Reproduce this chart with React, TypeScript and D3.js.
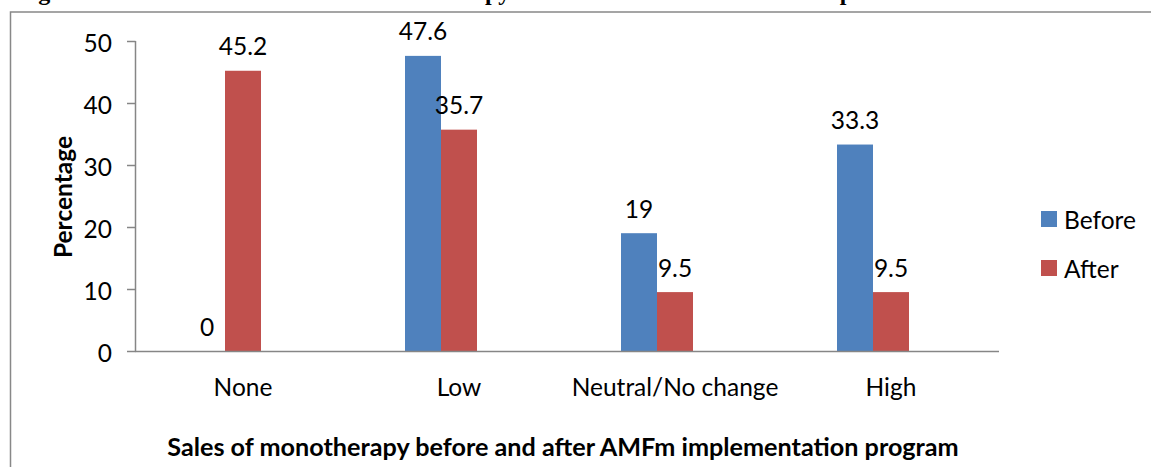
import React from "react";
import * as d3 from "d3";

const categories = ["None", "Low", "Neutral/No change", "High"];
const seriesNames = ["Before", "After"];
const beforeValues = [0, 47.6, 19, 33.3];
const afterValues = [45.2, 35.7, 9.5, 9.5];
const yTicks = [0, 10, 20, 30, 40, 50];
const colors = ["#4F81BD", "#C0504D"];

const W = 1151;
const H = 467;
const FONT = "Lato, 'Open Sans', sans-serif";

export default function App() {
  const x = d3.scaleBand<string>().domain(categories).range([135, 999]).padding(0);
  const inner = d3.scaleBand<string>().domain(seriesNames).range([54, 126]).padding(0);
  const y = d3.scaleLinear().domain([0, 50]).range([351, 41]);
  const values = [beforeValues, afterValues];
  const axisColor = "#868686";

  return (
    <svg
      width={W}
      height={H}
      style={{ position: "absolute", left: 0, top: 0, background: "#fff" }}
      fontFamily={FONT}
    >
      <rect x={0} y={0} width={W} height={H} fill="#fff" />
      {/* cut-off caption, only descenders visible (as in the reference) */}
      <text y={0} fontFamily="'Liberation Serif', 'Times New Roman', serif" fontWeight="bold" fontSize={24} fill="#000">
        <tspan x={17}>Figure 4: Sales of</tspan>
        <tspan x={373}>monotherapy before and after AMFm</tspan>
        <tspan x={813}>implementation</tspan>
      </text>
      {/* outer frame */}
      <rect x={10.5} y={12} width={1300} height={600} fill="none" stroke="#888" strokeWidth={1.5} />

      {/* bars */}
      {categories.map((c, i) => (
        <g key={c} transform={`translate(${x(c)},0)`}>
          {seriesNames.map((s, j) => {
            const v = values[j][i];
            const bx = inner(s)!;
            const by = y(v);
            return (
              <g key={s}>
                <rect x={bx} y={by} width={inner.bandwidth()} height={y(0) - by} fill={colors[j]} />
                <text
                  x={bx + inner.bandwidth() / 2}
                  y={by - 25}
                  textAnchor="middle"
                  dominantBaseline="central"
                  fontSize={24.5}
                  fill="#000"
                >
                  {String(v)}
                </text>
              </g>
            );
          })}
        </g>
      ))}

      {/* y axis */}
      <line x1={135.5} x2={135.5} y1={y(50)} y2={y(0)} stroke={axisColor} strokeWidth={1.5} />
      {yTicks.map((t) => (
        <g key={t}>
          <line x1={127} x2={135.5} y1={y(t) + 0.5} y2={y(t) + 0.5} stroke={axisColor} strokeWidth={1.5} />
          <text x={112} y={y(t) + 1} textAnchor="end" dominantBaseline="central" fontSize={24.5} fill="#000">
            {t}
          </text>
        </g>
      ))}
      {/* x axis */}
      <line x1={135} x2={999} y1={y(0) + 0.5} y2={y(0) + 0.5} stroke={axisColor} strokeWidth={1.5} />
      {categories.map((c) => (
        <text
          key={c}
          x={x(c)! + x.bandwidth() / 2}
          y={386}
          textAnchor="middle"
          dominantBaseline="central"
          fontSize={24.5}
          fill="#000"
        >
          {c}
        </text>
      ))}

      {/* axis titles */}
      <text
        transform="translate(62,197) rotate(-90)"
        textAnchor="middle"
        dominantBaseline="central"
        fontSize={24.5}
        fontWeight="bold"
        fill="#000"
      >
        Percentage
      </text>
      <text x={563} y={446} textAnchor="middle" dominantBaseline="central" fontSize={25.2} fontWeight="bold" fill="#000">
        Sales of monotherapy before and after AMFm implementation program
      </text>

      {/* legend */}
      {seriesNames.map((s, j) => (
        <g key={s} transform={`translate(1041,${211 + j * 49})`}>
          <rect x={0} y={0} width={16} height={16} fill={colors[j]} />
          <text x={23} y={8} dominantBaseline="central" fontSize={24.5} fill="#000">
            {s}
          </text>
        </g>
      ))}
    </svg>
  );
}
